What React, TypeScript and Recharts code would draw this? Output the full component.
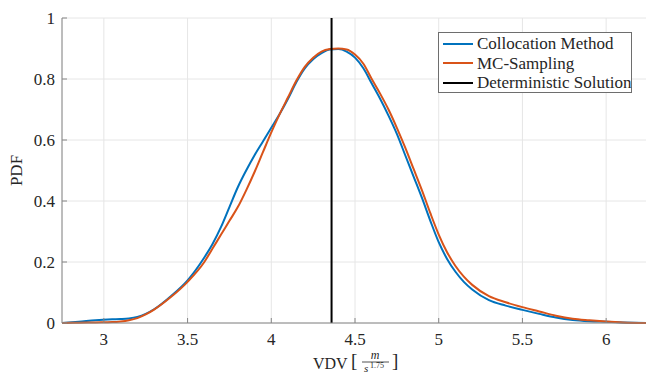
import {
  CartesianGrid,
  Label,
  Legend,
  Line,
  LineChart,
  ReferenceLine,
  XAxis,
  YAxis,
} from "recharts";

const vdv = [
  2.75, 2.85, 2.95, 3.05, 3.1, 3.15, 3.2, 3.25, 3.3, 3.4, 3.5, 3.6, 3.65, 3.7, 3.75, 3.8, 3.85, 3.9,
  3.95, 4.0, 4.05, 4.1, 4.15, 4.2, 4.25, 4.3, 4.35, 4.4, 4.45, 4.5, 4.55, 4.6, 4.65, 4.7, 4.75, 4.8,
  4.85, 4.9, 4.95, 5.0, 5.05, 5.1, 5.15, 5.2, 5.3, 5.4, 5.5, 5.6, 5.7, 5.8, 5.9, 6.0, 6.1, 6.25,
];

const collocation = [
  0.0, 0.004, 0.009, 0.012, 0.013, 0.015, 0.02, 0.03, 0.045, 0.088, 0.14, 0.215, 0.26, 0.315, 0.38,
  0.445, 0.5, 0.55, 0.595, 0.64, 0.685, 0.735, 0.79, 0.835, 0.865, 0.885, 0.897, 0.898, 0.89, 0.87,
  0.835, 0.785, 0.735, 0.68, 0.62, 0.55, 0.48, 0.41, 0.335, 0.265, 0.21, 0.168, 0.135, 0.11, 0.075,
  0.057, 0.043, 0.03, 0.018, 0.01, 0.006, 0.004, 0.002, 0.0,
];

const mcSampling = [
  0.0, 0.001, 0.002, 0.003, 0.005, 0.009, 0.016, 0.028, 0.044, 0.085, 0.135, 0.2, 0.245, 0.29, 0.335,
  0.38, 0.435, 0.495, 0.56, 0.625, 0.685, 0.74, 0.795, 0.84, 0.87, 0.89, 0.898, 0.9, 0.897, 0.88,
  0.85, 0.8, 0.752, 0.7, 0.64, 0.575, 0.505, 0.435, 0.36, 0.29, 0.232, 0.187, 0.152, 0.125, 0.088,
  0.068, 0.052, 0.038, 0.024, 0.014, 0.009, 0.005, 0.002, 0.0,
];

const deterministic = 4.36;

const xTicks = [3, 3.5, 4, 4.5, 5, 5.5, 6];
const yTicks = [0, 0.2, 0.4, 0.6, 0.8, 1];

const legendNames = ["Collocation Method", "MC-Sampling", "Deterministic Solution"];
const legendColors = ["#0072BD", "#D95319", "#000000"];

const data = vdv.map((v, i) => ({
  vdv: v,
  collocation: collocation[i],
  mc: mcSampling[i],
}));

const FONT = "'Liberation Serif', 'Times New Roman', serif";
const TEXT = "#262626";
const AXIS = "#868686";

function BottomTick({ x, y, payload }: any) {
  return (
    <g>
      <line x1={x} x2={x} y1={y} y2={y - 5} stroke={AXIS} />
      <text x={x} y={y + 22} textAnchor="middle" fontFamily={FONT} fontSize={17} fill={TEXT}>
        {String(payload.value)}
      </text>
    </g>
  );
}

function TopTick({ x, y }: any) {
  return <line x1={x} x2={x} y1={y} y2={y + 5} stroke={AXIS} />;
}

function LeftTick({ x, y, payload }: any) {
  return (
    <g>
      <line x1={x} x2={x + 5} y1={y} y2={y} stroke={AXIS} />
      <text x={x - 7} y={y + 6} textAnchor="end" fontFamily={FONT} fontSize={17} fill={TEXT}>
        {String(payload.value)}
      </text>
    </g>
  );
}

// VDV [m / s^1.75]
function VdvLabel({ viewBox }: any) {
  const cx = viewBox.x + viewBox.width / 2;
  const y = viewBox.y;
  return (
    <g fontFamily={FONT} fill={TEXT}>
      <text x={cx - 42} y={y + 46} fontSize={16}>
        VDV
      </text>
      <text x={cx - 4} y={y + 44} fontSize={19}>
        [
      </text>
      <text x={cx + 20} y={y + 36} fontSize={12} fontStyle="italic" textAnchor="middle">
        m
      </text>
      <line x1={cx + 7} x2={cx + 34} y1={y + 39} y2={y + 39} stroke={TEXT} strokeWidth={0.8} />
      <text x={cx + 9} y={y + 49} fontSize={11} fontStyle="italic">
        s
      </text>
      <text x={cx + 15} y={y + 45} fontSize={8}>
        1.75
      </text>
      <text x={cx + 37} y={y + 44} fontSize={19}>
        ]
      </text>
    </g>
  );
}

function PdfLabel({ viewBox }: any) {
  const cy = viewBox.y + viewBox.height / 2;
  return (
    <text
      x={22}
      y={cy}
      transform={`rotate(-90, 22, ${cy})`}
      textAnchor="middle"
      fontFamily={FONT}
      fontSize={17}
      fill={TEXT}
    >
      PDF
    </text>
  );
}

function LegendBox() {
  return (
    <div
      style={{
        border: "1px solid #6e6e6e",
        background: "#fff",
        paddingTop: 1,
        paddingLeft: 4,
        boxSizing: "border-box",
        width: 194,
        height: 61,
      }}
    >
      {legendNames.map((name, i) => (
        <div key={name} style={{ display: "flex", alignItems: "center", height: 19.5 }}>
          <span
            style={{ flex: "none", width: 30, height: 2, background: legendColors[i], marginRight: 4 }}
          />
          <span
            style={{
              fontFamily: FONT,
              fontSize: 17,
              color: TEXT,
              lineHeight: "19px",
              whiteSpace: "nowrap",
            }}
          >
            {name}
          </span>
        </div>
      ))}
    </div>
  );
}

export default function App() {
  return (
    <div
      style={{
        position: "fixed",
        left: 0,
        top: 0,
        width: 646,
        height: 374,
        overflow: "hidden",
        background: "#fff",
      }}
    >
      <LineChart
        width={650}
        height={374}
        data={data}
        margin={{ top: 18, right: 2, left: 0, bottom: 0 }}
      >
        <CartesianGrid stroke="#e6e6e6" strokeWidth={1} />
        <XAxis
          dataKey="vdv"
          type="number"
          domain={[2.75, 6.25]}
          ticks={xTicks}
          allowDataOverflow
          height={51}
          tickSize={0}
          tickMargin={0}
          tickLine={false}
          stroke={AXIS}
          tick={<BottomTick />}
        >
          <Label content={<VdvLabel />} />
        </XAxis>
        <XAxis
          xAxisId="top"
          orientation="top"
          dataKey="vdv"
          type="number"
          domain={[2.75, 6.25]}
          ticks={xTicks}
          allowDataOverflow
          height={0}
          tickSize={0}
          tickMargin={0}
          tickLine={false}
          stroke={AXIS}
          tick={<TopTick />}
        />
        <YAxis
          type="number"
          domain={[0, 1]}
          ticks={yTicks}
          width={62}
          tickSize={0}
          tickMargin={0}
          tickLine={false}
          stroke={AXIS}
          tick={<LeftTick />}
        >
          <Label content={<PdfLabel />} />
        </YAxis>
        <Legend
          layout="horizontal"
          verticalAlign="middle"
          align="center"
          wrapperStyle={{ position: "absolute", left: 438, top: 32, width: 194, height: 61 }}
          content={<LegendBox />}
        />
        <Line
          type="monotone"
          dataKey="collocation"
          stroke="#0072BD"
          strokeWidth={2}
          dot={false}
          isAnimationActive={false}
        />
        <Line
          type="monotone"
          dataKey="mc"
          stroke="#D95319"
          strokeWidth={2}
          dot={false}
          isAnimationActive={false}
        />
        <ReferenceLine x={deterministic} stroke="#000" strokeWidth={2} />
      </LineChart>
    </div>
  );
}
